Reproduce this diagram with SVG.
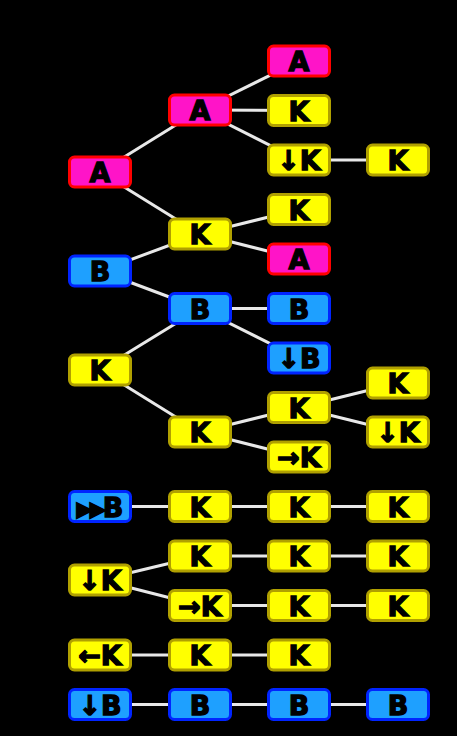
<svg xmlns="http://www.w3.org/2000/svg" width="457" height="736" viewBox="0 0 457 736">
<style>
.bg{fill:#000}
.e line{stroke:#e8e8e8;stroke-width:3}
.y{fill:#ffff00;stroke:#b0a000;stroke-width:3}
.p{fill:#ff14c8;stroke:#ff0000;stroke-width:3}
.b{fill:#1ea0ff;stroke:#0024ff;stroke-width:3}
text{font-family:"DejaVu Sans","Liberation Sans",sans-serif;font-weight:bold;font-size:27px;fill:#000;stroke:#000;stroke-width:1.3;text-anchor:middle}
.s{font-size:21px;letter-spacing:-3px}
</style>
<defs>
<rect id="box" x="-30.5" y="-15" width="61" height="30" rx="5"/>
</defs>
<rect class="bg" x="0" y="0" width="457" height="736"/>
<g id="connectors" class="e">
<line x1="100" y1="172" x2="200" y2="110"/>
<line x1="100" y1="172" x2="200" y2="234"/>
<line x1="200" y1="110" x2="299" y2="61"/>
<line x1="200" y1="110" x2="299" y2="110.5"/>
<line x1="200" y1="110" x2="299" y2="160"/>
<line x1="299" y1="160" x2="398" y2="160"/>
<line x1="200" y1="234" x2="299" y2="209.5"/>
<line x1="200" y1="234" x2="299" y2="259"/>
<line x1="100" y1="271" x2="200" y2="234"/>
<line x1="100" y1="271" x2="200" y2="308.5"/>
<line x1="200" y1="308.5" x2="299" y2="308.5"/>
<line x1="200" y1="308.5" x2="299" y2="358"/>
<line x1="100" y1="370" x2="200" y2="308.5"/>
<line x1="100" y1="370" x2="200" y2="432"/>
<line x1="200" y1="432" x2="299" y2="407.5"/>
<line x1="200" y1="432" x2="299" y2="457"/>
<line x1="299" y1="407.5" x2="398" y2="383"/>
<line x1="299" y1="407.5" x2="398" y2="432"/>
<line x1="100" y1="506.5" x2="398" y2="506.5"/>
<line x1="100" y1="580" x2="200" y2="556"/>
<line x1="100" y1="580" x2="200" y2="605.5"/>
<line x1="200" y1="556" x2="398" y2="556"/>
<line x1="200" y1="605.5" x2="398" y2="605.5"/>
<line x1="100" y1="655" x2="299" y2="655"/>
<line x1="100" y1="704.5" x2="398" y2="704.5"/>
</g>
<g id="n1" class="p" transform="translate(100,172)"><use href="#box"/><text y="10">A</text></g>
<g id="n2" class="p" transform="translate(200,110)"><use href="#box"/><text y="10">A</text></g>
<g id="n3" class="p" transform="translate(299,61)"><use href="#box"/><text y="10">A</text></g>
<g id="n4" class="y" transform="translate(299,110.5)"><use href="#box"/><text y="10">K</text></g>
<g id="n5" class="y" transform="translate(299,160)"><use href="#box"/><text y="10">↓K</text></g>
<g id="n6" class="y" transform="translate(398,160)"><use href="#box"/><text y="10">K</text></g>
<g id="n7" class="y" transform="translate(200,234)"><use href="#box"/><text y="10">K</text></g>
<g id="n8" class="y" transform="translate(299,209.5)"><use href="#box"/><text y="10">K</text></g>
<g id="n9" class="p" transform="translate(299,259)"><use href="#box"/><text y="10">A</text></g>
<g id="n10" class="b" transform="translate(100,271)"><use href="#box"/><text y="10">B</text></g>
<g id="n11" class="b" transform="translate(200,308.5)"><use href="#box"/><text y="10">B</text></g>
<g id="n12" class="b" transform="translate(299,308.5)"><use href="#box"/><text y="10">B</text></g>
<g id="n13" class="b" transform="translate(299,358)"><use href="#box"/><text y="10">↓B</text></g>
<g id="n14" class="y" transform="translate(100,370)"><use href="#box"/><text y="10">K</text></g>
<g id="n15" class="y" transform="translate(200,432)"><use href="#box"/><text y="10">K</text></g>
<g id="n16" class="y" transform="translate(299,407.5)"><use href="#box"/><text y="10">K</text></g>
<g id="n17" class="y" transform="translate(299,457)"><use href="#box"/><text y="10">→K</text></g>
<g id="n18" class="y" transform="translate(398,383)"><use href="#box"/><text y="10">K</text></g>
<g id="n19" class="y" transform="translate(398,432)"><use href="#box"/><text y="10">↓K</text></g>
<g id="n20" class="b" transform="translate(100,506.5)"><use href="#box"/><text y="10"><tspan class="s" dy="-1">▶▶</tspan><tspan dy="1">B</tspan></text></g>
<g id="n21" class="y" transform="translate(200,506.5)"><use href="#box"/><text y="10">K</text></g>
<g id="n22" class="y" transform="translate(299,506.5)"><use href="#box"/><text y="10">K</text></g>
<g id="n23" class="y" transform="translate(398,506.5)"><use href="#box"/><text y="10">K</text></g>
<g id="n24" class="y" transform="translate(100,580)"><use href="#box"/><text y="10">↓K</text></g>
<g id="n25" class="y" transform="translate(200,556)"><use href="#box"/><text y="10">K</text></g>
<g id="n26" class="y" transform="translate(299,556)"><use href="#box"/><text y="10">K</text></g>
<g id="n27" class="y" transform="translate(398,556)"><use href="#box"/><text y="10">K</text></g>
<g id="n28" class="y" transform="translate(200,605.5)"><use href="#box"/><text y="10">→K</text></g>
<g id="n29" class="y" transform="translate(299,605.5)"><use href="#box"/><text y="10">K</text></g>
<g id="n30" class="y" transform="translate(398,605.5)"><use href="#box"/><text y="10">K</text></g>
<g id="n31" class="y" transform="translate(100,655)"><use href="#box"/><text y="10">←K</text></g>
<g id="n32" class="y" transform="translate(200,655)"><use href="#box"/><text y="10">K</text></g>
<g id="n33" class="y" transform="translate(299,655)"><use href="#box"/><text y="10">K</text></g>
<g id="n34" class="b" transform="translate(100,704.5)"><use href="#box"/><text y="10">↓B</text></g>
<g id="n35" class="b" transform="translate(200,704.5)"><use href="#box"/><text y="10">B</text></g>
<g id="n36" class="b" transform="translate(299,704.5)"><use href="#box"/><text y="10">B</text></g>
<g id="n37" class="b" transform="translate(398,704.5)"><use href="#box"/><text y="10">B</text></g>
</svg>
